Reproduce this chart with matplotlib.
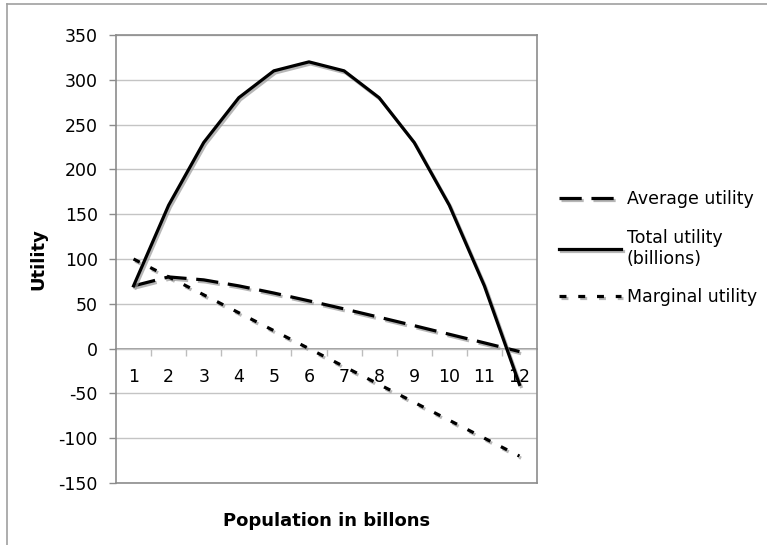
import matplotlib
matplotlib.use("Agg")
import matplotlib.pyplot as plt
import matplotlib.patheffects as pe
from matplotlib.lines import Line2D

population = [1, 2, 3, 4, 5, 6, 7, 8, 9, 10, 11, 12]
average_utility = [70, 80, 76.7, 70, 62, 53.3, 44.3, 35, 25.6, 16, 6.4, -3.3]
total_utility = [70, 160, 230, 280, 310, 320, 310, 280, 230, 160, 70, -40]
marginal_utility = [100, 80, 60, 40, 20, 0, -20, -40, -60, -80, -100, -120]
y_ticks = [-150, -100, -50, 0, 50, 100, 150, 200, 250, 300, 350]

plt.rcParams['lines.scale_dashes'] = False
plt.rcParams['axes.unicode_minus'] = False
plt.rcParams['font.family'] = ['DejaVu Sans']

fig = plt.figure(figsize=(7.67, 5.45), dpi=100)
ax = fig.add_axes([116/767, 1-483/545, (537-116)/767, (483-35)/545])

shadow = [pe.SimpleLineShadow(offset=(1.2, -1.5), shadow_color='#999999', alpha=0.7), pe.Normal()]
lw = 2.3
ax.plot(population, average_utility, color='black', lw=lw, linestyle=(0, (16, 7)),
        path_effects=shadow, label='Average utility', dash_capstyle='butt')
ax.plot(population, total_utility, color='black', lw=lw, linestyle='-',
        path_effects=shadow, label='Total utility\n(billions)')
ax.plot(population, marginal_utility, color='black', lw=lw, linestyle=(0, (5, 8.5)),
        path_effects=shadow, label='Marginal utility', dash_capstyle='butt')

ax.set_xlim(0.5, 12.5)
ax.set_ylim(-150, 350)
ax.set_yticks(y_ticks)
ax.set_yticklabels([str(v) for v in y_ticks])
ax.yaxis.grid(True, color='#c4c4c4', lw=1)
ax.set_axisbelow(True)
for s in ax.spines.values():
    s.set_color('#8c8c8c')
    s.set_linewidth(1.2)
ax.tick_params(axis='y', length=5, width=1, color='#8c8c8c', labelsize=12.5, pad=8)
ax.set_xticks([])

# category axis crossing at zero
sec = ax.secondary_xaxis(150/500)
sec.spines['bottom'].set_color('#8c8c8c')
sec.spines['bottom'].set_linewidth(1.2)
sec.set_xticks(population)
sec.set_xticks([p + 0.5 for p in population[:-1]], minor=True)
sec.tick_params(axis='x', which='major', length=0, labelsize=12.5, pad=14)
sec.tick_params(axis='x', which='minor', length=5, width=1, color='#bdbdbd')

ax.set_ylabel('Utility', fontsize=13, fontweight='bold')
ax.yaxis.set_label_coords(-(116-47)/421, 0.5)
ax.set_xlabel('Population in billons', fontsize=13, fontweight='bold')
ax.xaxis.set_label_coords(0.5, -(512-483)/448)

leg = fig.legend(loc='upper left', bbox_to_anchor=(552/767, 1-183/545), frameon=False,
                 fontsize=12.5, handlelength=3.6, handletextpad=0.3, labelspacing=1.2,
                 borderaxespad=0)

fig.add_artist(Line2D([7/767, 7/767], [0, 1-4/545], color='#a0a0a0', lw=1.2, transform=fig.transFigure))
fig.add_artist(Line2D([7/767, 1], [1-4/545, 1-4/545], color='#a0a0a0', lw=1.2, transform=fig.transFigure))

fig.savefig('out.png', dpi=100)
